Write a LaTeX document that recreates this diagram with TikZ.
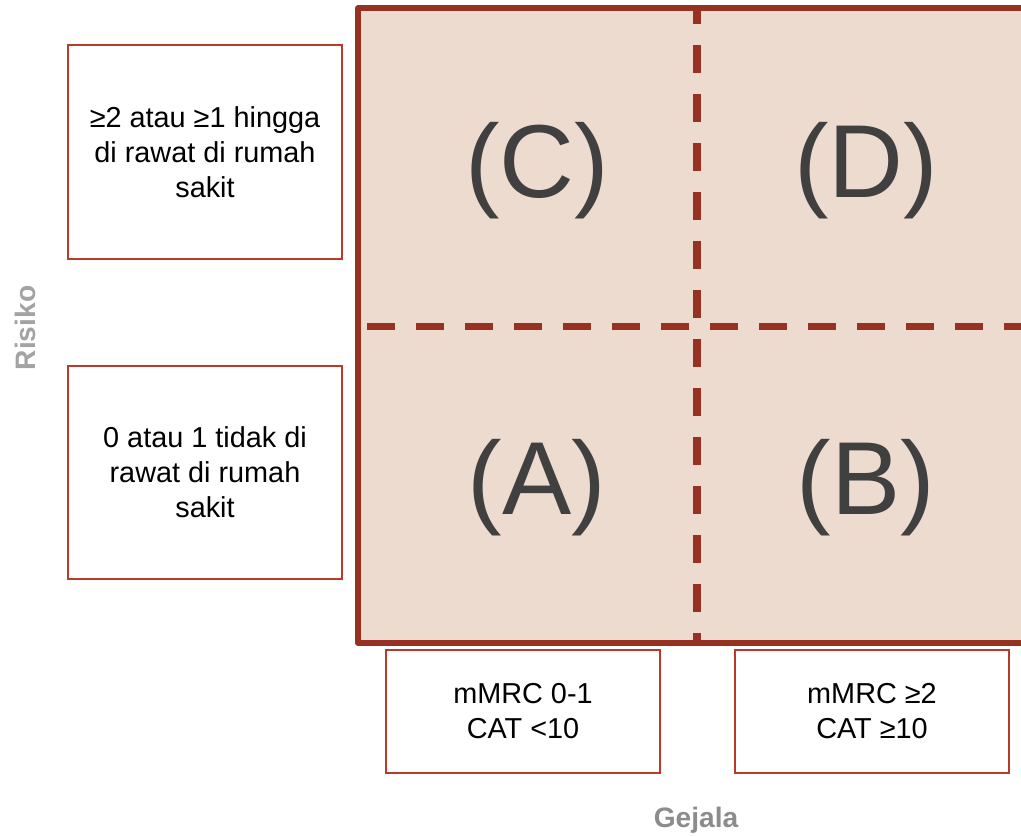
\documentclass[tikz,border=0pt]{standalone}
\usepackage{fontspec}
\setmainfont{Liberation Sans}
\definecolor{gridfill}{HTML}{EEDBD0}
\definecolor{gridline}{HTML}{973223}
\definecolor{boxline}{HTML}{B83A2A}
\definecolor{bigtext}{HTML}{404040}
\definecolor{axisgray}{HTML}{8C8C8C}
\begin{document}
\begin{tikzpicture}[x=0.01cm,y=-0.01cm,
  labelbox/.style={draw=boxline,line width=0.7pt,fill=white,minimum width=2.74cm,
    align=center,inner sep=0pt,font=\fontsize{8.2}{9.96}\selectfont},
  bigletter/.style={text=bigtext,anchor=base,inner sep=0pt,font=\fontsize{29.5}{34}\selectfont},
  axislabel/.style={text=axisgray,inner sep=0pt,font=\fontsize{8}{9}\selectfont\bfseries},
  divider/.style={draw=gridline,line width=2pt,dash pattern=on 7.97pt off 5.97pt}]
\useasboundingbox (0,0) rectangle (1021,835);
\clip (0,0) rectangle (1021,835);
% grid
\fill[gridfill] (358,8) rectangle (1030,643);
\draw[divider] (367,326) -- (1030,326);
\draw[divider,dash phase=4pt] (697,10) -- (697,643);
\draw[gridline,line width=1.45pt,line join=round] (1030,8) -- (358,8) -- (358,643) -- (1030,643);
% quadrant letters
\node[bigletter] (C) at (537,197) {(C)};
\node[bigletter] (D) at (866,197) {(D)};
\node[bigletter] (A) at (537,514) {(A)};
\node[bigletter] (B) at (866,514) {(B)};
% risk boxes
\node[labelbox,minimum height=2.14cm] (r2) at (205,152) {≥2 atau ≥1 hingga\\di rawat di rumah\\sakit};
\node[labelbox,minimum height=2.13cm] (r1) at (205,472.5) {0 atau 1 tidak di\\rawat di rumah\\sakit};
% symptom boxes
\node[labelbox,minimum height=1.23cm] (s1) at (523,711.5) {mMRC 0-1\\CAT <10};
\node[labelbox,minimum height=1.23cm] (s2) at (872,711.5) {mMRC ≥2\\CAT ≥10};
% axis labels
\node[axislabel,rotate=90,text=axisgray!80] (risiko) at (25,328) {Risiko};
\node[axislabel,anchor=base] (gejala) at (696,827) {Gejala};
\end{tikzpicture}
\end{document}
